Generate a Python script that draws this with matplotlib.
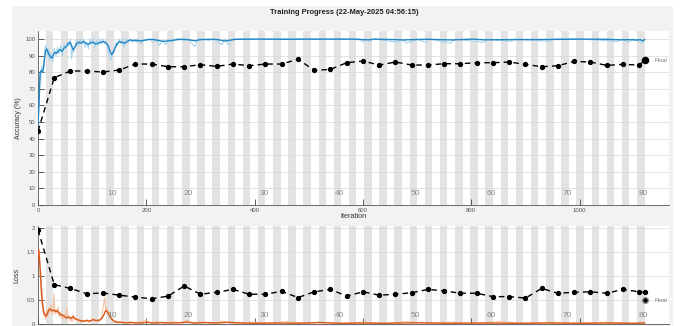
import matplotlib
matplotlib.use("Agg")
import matplotlib.pyplot as plt
from matplotlib.patches import Rectangle

plt.rcParams['font.family'] = ['Liberation Sans', 'DejaVu Sans']

title = "Training Progress (22-May-2025 04:56:15)"
iters_per_epoch = 14
n_epochs = 80
epoch_labels = [10, 20, 30, 40, 50, 60, 70, 80]
x_ticks = [0, 200, 400, 600, 800, 1000]
acc_yticks = [0, 10, 20, 30, 40, 50, 60, 70, 80, 90, 100]
loss_yticks = [0, 0.5, 1, 1.5, 2]
loss_yticklabels = ["0", "0.5", "1", "1.5", "2"]

# Training accuracy, smoothed (dark blue)
acc_s_it = [0, 2, 4, 6, 8, 10, 12, 14, 16, 18, 20, 23, 26, 29, 32, 35, 38, 41, 44, 47,
            50, 53, 56, 59, 62, 65, 68, 72, 76, 80, 84, 88, 93, 98, 102, 106, 111, 116,
            121, 126, 130, 133, 136, 139, 142, 146, 150, 155, 160, 165, 170, 176, 182,
            188, 195, 202, 210, 220, 230, 240, 250, 260, 270, 280, 290, 300, 315, 330,
            345, 355, 365, 400, 430, 460, 500, 540, 580, 600, 610, 620, 660, 675, 690,
            720, 765, 800, 825, 875, 945, 1000, 1050, 1075, 1090, 1105, 1112, 1116, 1120]
acc_s = [48, 62, 80, 81, 80, 82, 88, 93, 94, 92.5, 91, 89, 88.5, 91, 92, 91.5, 93, 93.5,
         92.5, 94, 95, 95.5, 97.5, 98, 96, 93.5, 95, 97.5, 98, 97.5, 98.5, 97.5, 96.8,
         97.8, 98, 97, 97.4, 98, 98.4, 97.5, 95.6, 92.5, 90.5, 92, 94.6, 97, 98.4, 98,
         97.4, 98.5, 99.4, 99, 99.2, 98.8, 99.1, 99.6, 99.8, 99.3, 98.6, 98.8, 99.3, 99.7,
         99.8, 99.4, 98.9, 99.6, 99.8, 99.7, 98.8, 99.3, 99.8, 99.9, 99.9, 99.8, 99.9,
         99.9, 99.9, 99.6, 99.5, 99.9, 99.6, 99.4, 99.6, 99.8, 99.4, 99.9, 99.5, 99.6,
         99.7, 99.9, 99.8, 99.5, 99.6, 99.4, 99.6, 98.9, 99.6]

# Training accuracy, raw (light blue)
acc_r_it = [0, 1, 3, 5, 7, 9, 11, 13, 15, 17, 19, 21, 24, 27, 30, 33, 36, 39, 42, 45, 48,
            51, 54, 57, 60, 62, 64, 66, 69, 72, 75, 78, 81, 84, 87, 90, 93, 96, 99, 102,
            105, 108, 111, 114, 117, 120, 123, 126, 129, 132, 135, 138, 141, 144, 147,
            150, 153, 156, 159, 162, 166, 170, 174, 178, 182, 186, 190, 195, 200, 206,
            212, 218, 224, 230, 236, 242, 248, 254, 262, 270, 278, 285, 290, 295, 305,
            315, 325, 340, 345, 352, 358, 400, 500, 595, 600, 605, 612, 620, 665, 672,
            680, 690, 700, 715, 722, 762, 770, 822, 830, 872, 880, 943, 950, 1000, 1070,
            1078, 1090, 1098, 1110, 1116, 1120]
acc_r = [45, 55, 78, 75, 84, 80, 85, 95, 96, 90, 94, 87, 92, 86, 94, 90, 95, 91, 96, 90,
         97, 94, 98, 96, 100, 88, 94, 92, 97, 100, 96, 100, 97, 100, 95, 98, 94, 100, 97,
         100, 95, 99, 96, 100, 97, 100, 97, 99, 93, 89, 87, 93, 92, 98, 96, 100, 97, 100,
         95, 100, 98, 100, 98, 100, 98, 100, 97, 100, 99, 100, 98, 100, 96, 99, 96.5,
         100, 98, 100, 100, 99, 100, 97, 95.5, 100, 100, 99, 100, 96.5, 100, 96.5, 100,
         100, 100, 100, 98, 100, 98.5, 100, 98, 100, 97.5, 98.5, 100, 98, 100, 97.5, 100,
         98, 100, 98.5, 100, 98.5, 100, 100, 98.5, 100, 98, 100, 98.5, 97.5, 100]

# Validation accuracy (every 30 iterations)
val_it = [0, 30, 60, 90, 120, 150, 180, 210, 240, 270, 300, 330, 360, 390, 420, 450, 480,
          510, 540, 570, 600, 630, 660, 690, 720, 750, 780, 810, 840, 870, 900, 930, 960,
          990, 1020, 1050, 1080, 1110, 1120]
val_acc = [44.5, 76.7, 80.7, 80.7, 80.1, 81.3, 84.9, 84.9, 83.3, 83.3, 84.5, 83.5, 84.9,
           83.9, 84.9, 84.9, 87.8, 81.1, 81.7, 85.7, 86.7, 84.3, 86.1, 84.3, 84.3, 85.1,
           85.1, 85.7, 85.7, 86.1, 84.7, 83.3, 83.9, 86.5, 86.1, 84.1, 84.7, 84.3, 87.1]
final_acc = 87.1

# Training loss, smoothed (dark orange)
loss_s_it = [0, 1, 2, 4, 6, 8, 10, 12, 14, 17, 20, 23, 26, 29, 32, 35, 38, 41, 44, 47, 50,
             53, 57, 61, 65, 69, 73, 78, 84, 90, 96, 102, 108, 114, 118, 122, 125, 128,
             131, 134, 138, 142, 146, 150, 156, 165, 175, 190, 200, 215, 230, 245, 260,
             275, 290, 310, 330, 350, 380, 400, 440, 480, 520, 560, 600, 640, 700, 760,
             820, 880, 940, 1000, 1050, 1100, 1120]
loss_s = [1.35, 1.55, 1.45, 1.15, 0.75, 0.45, 0.28, 0.2, 0.16, 0.2, 0.3, 0.31, 0.27, 0.29,
          0.26, 0.28, 0.24, 0.2, 0.19, 0.17, 0.15, 0.13, 0.14, 0.12, 0.15, 0.11, 0.09,
          0.07, 0.06, 0.07, 0.06, 0.09, 0.07, 0.08, 0.12, 0.2, 0.28, 0.26, 0.19, 0.13,
          0.08, 0.05, 0.03, 0.04, 0.03, 0.025, 0.03, 0.02, 0.035, 0.02, 0.03, 0.02, 0.025,
          0.04, 0.02, 0.03, 0.02, 0.035, 0.02, 0.015, 0.02, 0.015, 0.03, 0.015, 0.02,
          0.015, 0.025, 0.015, 0.02, 0.015, 0.02, 0.015, 0.02, 0.015, 0.02]

# Training loss, raw (light orange)
loss_r_it = [0, 1, 2, 3, 4, 5, 6, 7, 8, 9, 10, 12, 14, 16, 18, 20, 22, 24, 26, 28, 30, 31,
             33, 35, 37, 39, 41, 43, 45, 47, 49, 51, 53, 55, 57, 59, 61, 63, 65, 67, 70,
             73, 76, 79, 82, 86, 90, 94, 98, 102, 106, 110, 114, 118, 121, 123, 125, 127,
             129, 131, 134, 137, 140, 145, 150, 155, 160, 170, 180, 190, 200, 210, 220,
             235, 250, 265, 275, 285, 300, 320, 340, 360, 400, 420, 460, 500, 520, 560,
             600, 640, 680, 720, 760, 800, 850, 900, 950, 1000, 1050, 1100, 1120]
loss_r = [1.2, 1.6, 1.3, 1.5, 1.0, 1.1, 0.6, 0.7, 0.35, 0.4, 0.2, 0.25, 0.1, 0.3, 0.15,
          0.35, 0.25, 0.4, 0.2, 0.3, 0.62, 0.2, 0.3, 0.22, 0.35, 0.15, 0.25, 0.12, 0.22,
          0.1, 0.2, 0.08, 0.35, 0.1, 0.18, 0.06, 0.15, 0.05, 0.2, 0.08, 0.12, 0.05, 0.1,
          0.03, 0.08, 0.04, 0.1, 0.03, 0.08, 0.12, 0.05, 0.1, 0.06, 0.18, 0.4, 0.55, 0.3,
          0.35, 0.2, 0.25, 0.12, 0.1, 0.04, 0.07, 0.02, 0.05, 0.01, 0.05, 0.01, 0.04,
          0.08, 0.01, 0.05, 0.01, 0.05, 0.02, 0.08, 0.01, 0.05, 0.01, 0.06, 0.01, 0.04,
          0.01, 0.05, 0.01, 0.04, 0.01, 0.04, 0.01, 0.05, 0.01, 0.04, 0.01, 0.05, 0.01,
          0.04, 0.01, 0.04, 0.01, 0.03]

# Validation loss
val_loss = [1.96, 0.82, 0.74, 0.63, 0.645, 0.6, 0.56, 0.525, 0.58, 0.79, 0.62, 0.66, 0.72,
            0.62, 0.62, 0.68, 0.55, 0.67, 0.72, 0.58, 0.67, 0.6, 0.62, 0.65, 0.72, 0.69,
            0.64, 0.64, 0.57, 0.57, 0.54, 0.74, 0.64, 0.66, 0.67, 0.64, 0.72, 0.67, 0.66]
final_loss = 0.49

W, H = 681, 326
fig = plt.figure(figsize=(W / 100, H / 100), dpi=100)
fig.patch.set_facecolor('white')
fig.patches.append(Rectangle((12 / W, 0), (673 - 12) / W, 1 - 6 / H,
                             transform=fig.transFigure, facecolor='#f2f2f2',
                             edgecolor='none', zorder=-10))

left, right = 38 / W, 669 / W
ax1 = fig.add_axes([left, 1 - 205 / H, right - left, (205 - 31) / H])
ax2 = fig.add_axes([left, 1 - 324 / H, right - left, (324 - 226) / H])

xmax = 1165
blue_dark = '#2186c4'
blue_light = '#a9d4ef'
or_dark = '#d9581c'
or_light = '#f5c2a0'
band = '#e3e3e3'
tick_col = '#555555'

for ax in (ax1, ax2):
    ax.set_facecolor('white')
    ax.set_xlim(0, xmax)
    for e in range(2, n_epochs + 1, 2):
        ax.axvspan((e - 1) * iters_per_epoch, e * iters_per_epoch, color=band,
                   lw=0, zorder=0)
    ax.set_xticks(x_ticks)
    ax.tick_params(direction='in', length=4, width=0.6, colors='#444444',
                   labelsize=4.3, labelcolor=tick_col, pad=2)
    for s in ('top', 'right'):
        ax.spines[s].set_visible(False)
    for s in ('left', 'bottom'):
        ax.spines[s].set_color('#555555')
        ax.spines[s].set_linewidth(0.6)
    ax.yaxis.grid(True, color='#d8d8d8', lw=0.5, zorder=0.5)
    ax.set_axisbelow(True)

# accuracy panel
ax1.set_ylim(0, 104.8)
ax1.set_yticks(acc_yticks)
ax1.plot(acc_r_it, acc_r, color=blue_light, lw=0.8, zorder=2)
ax1.plot(acc_s_it, acc_s, color=blue_dark, lw=1.0, zorder=3)
ax1.plot(val_it, val_acc, color='black', ls=(0, (4, 3)), lw=1.0, marker='o',
         ms=2.8, zorder=4)
ax1.plot([val_it[-1]], [final_acc], 'o', color='black', ms=4.4, zorder=5)
ax1.text(val_it[-1] + 18, final_acc, 'Final', fontsize=4.2, color='#777777',
         va='center', ha='left')
for lab in epoch_labels:
    ax1.text(lab * iters_per_epoch - 3, 7, str(lab), fontsize=6, color='#8a8a8a',
             ha='center', va='center', zorder=6)
ax1.set_ylabel('Accuracy (%)', fontsize=5, color='#333333', labelpad=2)
ax1.set_xlabel('Iteration', fontsize=5.3, color='#333333', labelpad=0.5)

# loss panel
ax2.set_ylim(0, 2.04)
ax2.set_yticks(loss_yticks)
ax2.set_yticklabels(loss_yticklabels)
ax2.set_xticklabels([])
ax2.plot(loss_r_it, loss_r, color=or_light, lw=0.8, zorder=2)
ax2.plot(loss_s_it, loss_s, color=or_dark, lw=1.0, zorder=3)
ax2.plot(val_it, val_loss, color='black', ls=(0, (4, 3)), lw=1.0, marker='o',
         ms=2.8, zorder=4)
ax2.plot([val_it[-1]], [final_loss], 'o', mfc='black', mec='#9a9a9a', mew=1.0,
         ms=4.2, zorder=5)
ax2.text(val_it[-1] + 18, final_loss, 'Final', fontsize=4.2, color='#777777',
         va='center', ha='left')
for lab in epoch_labels:
    ax2.text(lab * iters_per_epoch - 3, 0.17, str(lab), fontsize=6, color='#8a8a8a',
             ha='center', va='center', zorder=6)
ax2.set_ylabel('Loss', fontsize=5, color='#333333', labelpad=5)

fig.text(344 / W, 1 - 13 / H, title, fontsize=5.4, fontweight='bold',
         ha='center', va='center', color='#222222')

fig.savefig('out.png', dpi=100, facecolor=fig.get_facecolor())
